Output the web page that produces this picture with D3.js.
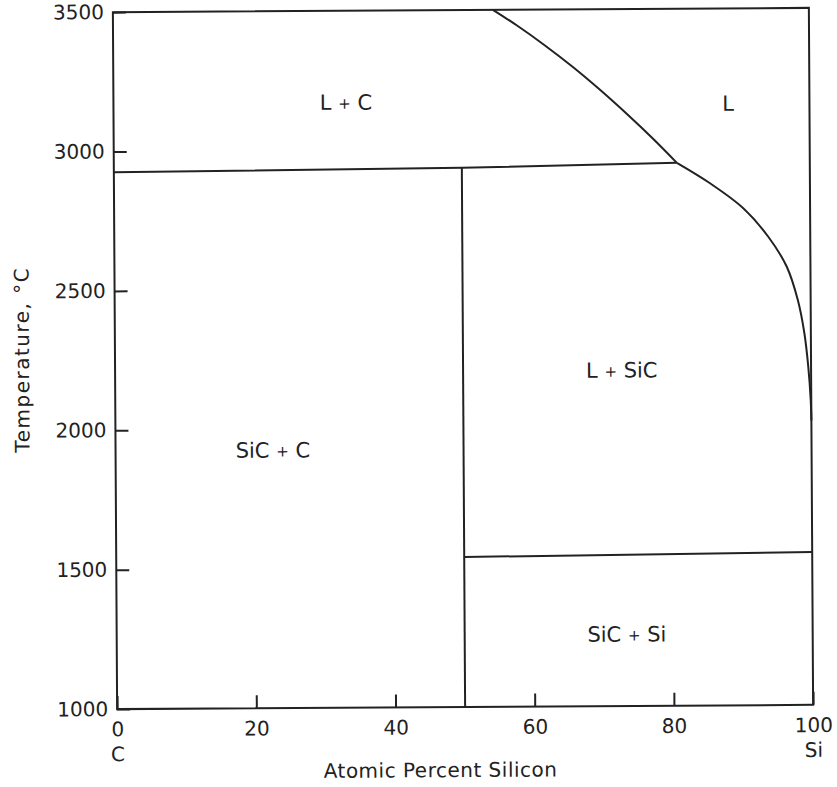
<!DOCTYPE html>
<html>
<head>
<meta charset="utf-8">
<script src="https://cdn.jsdelivr.net/npm/d3@7"></script>
<style>
  body { margin: 0; background: #fff; }
  svg { display: block; }
  text { font-family: "DejaVu Sans", sans-serif; fill: #222; }
</style>
</head>
<body>
<svg id="chart" width="837" height="787"></svg>
<script>
// Si–C phase diagram: composition (at.% Si) vs temperature (°C)
const xTickValues = [0, 20, 40, 60, 80, 100];
const yTickValues = [1000, 1500, 2000, 2500, 3000, 3500];
const xEndNames = ["C", "Si"];

// liquidus above the peritectic (L+C | L)
const liqUpperX = [54.6, 58, 62, 66, 70, 74, 77.5, 80.9];
const liqUpperT = [3500, 3444, 3372, 3294, 3209, 3118, 3034, 2947];
// liquidus below the peritectic (L+SiC | L)
const liqLowerX = [80.9, 85.65, 90.4, 93.97, 96.6, 98.15, 99.07, 99.6, 99.92, 100];
const liqLowerT = [2947, 2873, 2783, 2680, 2572, 2453, 2333, 2213, 2094, 2020];
// peritectic isotherm
const peritecticX = [0, 50, 80.9];
const peritecticT = [2926, 2934, 2947];
// SiC line compound
const sicX = [50, 50];
const sicT = [1000, 2934];
// eutectic isotherm (SiC + Si)
const eutecticX = [50, 100];
const eutecticT = [1538, 1548];

// phase field labels
const regionNames = ["L + C", "L", "L + SiC", "SiC + C", "SiC + Si"];
const regionX = [33.4, 88.3, 72.8, 22.6, 73.3];
const regionT = [3172, 3160, 2205, 1926, 1258];

const svg = d3.select("#chart");
const ink = "#222";

const x = d3.scaleLinear().domain([0, 100]).range([115, 811]);
const y = d3.scaleLinear().domain([1000, 3500]).range([707, 10]);

// the whole drawing sits with a slight counter-clockwise tilt
const g = svg.append("g").attr("transform", "rotate(-0.35,463,358.5)");

// frame
g.append("rect")
  .attr("x", x(0)).attr("y", y(3500))
  .attr("width", x(100) - x(0)).attr("height", y(1000) - y(3500))
  .attr("fill", "none").attr("stroke", ink).attr("stroke-width", 2);

// bottom axis
const xAxis = g.append("g")
  .attr("transform", `translate(0,${y(1000)})`)
  .call(d3.axisBottom(x).tickValues(xTickValues).tickSize(-13).tickPadding(13).tickFormat(d3.format("d")));
xAxis.select(".domain").remove();
xAxis.selectAll(".tick line").attr("stroke", ink).attr("stroke-width", 2);
xAxis.selectAll(".tick text").attr("font-size", 20).attr("fill", ink)
  .attr("font-family", "DejaVu Sans, sans-serif");
xAxis.selectAll(".tick").filter(d => d === 0 || d === 100)
  .append("text")
  .attr("y", 52).attr("text-anchor", "middle")
  .attr("font-size", 20)
  .text(d => d === 0 ? xEndNames[0] : xEndNames[1]);

// left axis
const yAxis = g.append("g")
  .attr("transform", `translate(${x(0)},0)`)
  .call(d3.axisLeft(y).tickValues(yTickValues).tickSize(-13).tickPadding(9).tickFormat(d3.format("d")));
yAxis.select(".domain").remove();
yAxis.selectAll(".tick line").attr("stroke", ink).attr("stroke-width", 2);
yAxis.selectAll(".tick text").attr("font-size", 20).attr("fill", ink)
  .attr("font-family", "DejaVu Sans, sans-serif");

// phase boundaries
const straight = d3.line().x(d => x(d[0])).y(d => y(d[1]));
const smooth = d3.line().x(d => x(d[0])).y(d => y(d[1])).curve(d3.curveCatmullRom.alpha(0.5));
const zip = (a, b) => a.map((v, i) => [v, b[i]]);

const boundaries = [
  { pts: zip(peritecticX, peritecticT), gen: straight },
  { pts: zip(sicX, sicT), gen: straight },
  { pts: zip(eutecticX, eutecticT), gen: straight },
  { pts: zip(liqUpperX, liqUpperT), gen: smooth },
  { pts: zip(liqLowerX, liqLowerT), gen: smooth }
];
g.append("g").selectAll("path").data(boundaries).join("path")
  .attr("d", d => d.gen(d.pts))
  .attr("fill", "none").attr("stroke", ink).attr("stroke-width", 2)
  .attr("stroke-linejoin", "round");

// phase field labels
const labels = g.append("g").selectAll("text").data(regionNames).join("text")
  .attr("x", (d, i) => x(regionX[i]))
  .attr("y", (d, i) => y(regionT[i]))
  .attr("dy", "0.36em")
  .attr("text-anchor", "middle")
  .attr("font-size", 21);
labels.each(function (d) {
  const t = d3.select(this);
  const parts = d.split(" + ");
  if (parts.length === 1) { t.text(d); return; }
  t.append("tspan").text(parts[0] + " ");
  t.append("tspan").attr("font-size", 15).attr("dy", -1).text("+");
  t.append("tspan").attr("dy", 1).text(" " + parts[1]);
});

// axis titles
g.append("text")
  .attr("x", 438).attr("y", 777)
  .attr("text-anchor", "middle").attr("font-size", 20)
  .attr("letter-spacing", 0.5)
  .text("Atomic Percent Silicon");

g.append("text")
  .attr("transform", "translate(29,357) rotate(-90)")
  .attr("text-anchor", "middle").attr("font-size", 20)
  .attr("letter-spacing", 1.5)
  .text("Temperature, °C");
</script>
</body>
</html>
